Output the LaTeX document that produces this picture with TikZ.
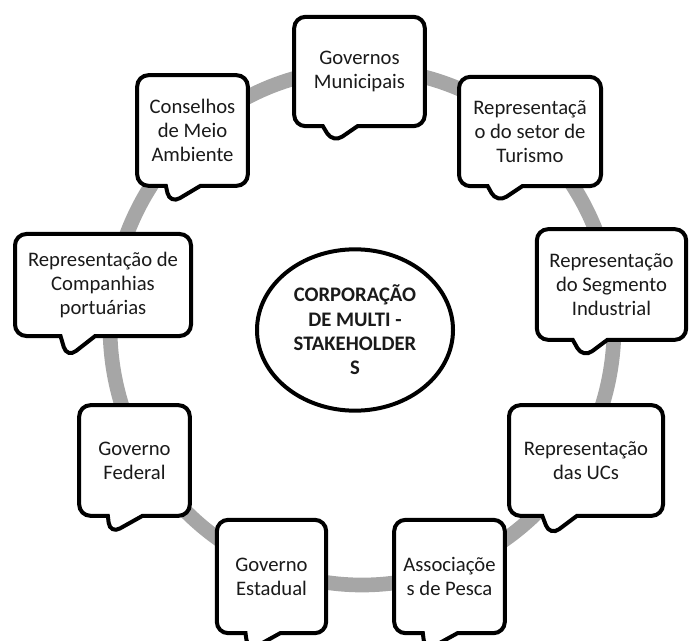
\documentclass[tikz,border=0pt]{standalone}
\usepackage{fontspec}
\setmainfont{Carlito}
\usepackage{xcolor}
\usetikzlibrary{shapes.callouts}
\usetikzlibrary{shapes.geometric}
\definecolor{ring-grey}{HTML}{A6A6A6}
\definecolor{ink}{HTML}{1A1A1A}

\tikzset{
  actor/.style={rectangle callout, draw=black, line width=3pt, fill=white,
    rounded corners=8.5pt, align=center, text=ink, inner sep=1pt,
    font=\fontsize{15.5}{18.2}\selectfont, callout pointer width=26pt},
  hub/.style={ellipse, draw=black, line width=3pt, fill=white, align=center,
    text=ink, inner sep=0pt, minimum width=147pt, minimum height=121pt,
    font=\fontsize{15.5}{18.2}\selectfont\bfseries}
}

\begin{document}
\begin{tikzpicture}[x=0.75pt,y=-0.75pt]

    \useasboundingbox (0,0) rectangle (691,641);
    \clip (0,0) rectangle (691,641);

    % ring
    \draw[ring-grey, line width=11pt] (362,327) ellipse [x radius=252, y radius=258];

    % centre
    \node[hub] (corp) at (355,330) {CORPORA\c{C}\~AO\\DE MULTI -\\STAKEHOLDER\\S};

    % stakeholders
    \node[actor, minimum width=98pt, minimum height=82pt, callout absolute pointer={(333,143)}]
      (municipais) at (359.5,71.5) {Governos\\Municipais};
    \node[actor, minimum width=106.5pt, minimum height=82pt, callout absolute pointer={(497,203)}]
      (turismo) at (530,131.5) {Representa\c{c}\~a\\o do setor de\\Turismo};
    \node[actor, minimum width=83pt, minimum height=83pt, callout absolute pointer={(170,204)}]
      (conselhos) at (192.5,130.5) {Conselhos\\de Meio\\Ambiente};
    \node[actor, minimum width=132pt, minimum height=76.5pt, callout absolute pointer={(67,358)}]
      (portos) at (103,285) {Representa\c{c}\~ao de\\Companhias\\portu\'arias};
    \node[actor, minimum width=112pt, minimum height=83pt, callout absolute pointer={(583,358)}]
      (industria) at (611.5,284.5) {Representa\c{c}\~ao\\do Segmento\\Industrial};
    \node[actor, minimum width=83pt, minimum height=83pt, callout absolute pointer={(110,534)}]
      (federal) at (134.5,460.5) {Governo\\Federal};
    \node[actor, minimum width=115.5pt, minimum height=83pt, callout absolute pointer={(550,536)}]
      (ucs) at (586,460.5) {Representa\c{c}\~ao\\das UCs};
    \node[actor, minimum width=82pt, minimum height=85pt, callout absolute pointer={(248,651)}]
      (estadual) at (271.5,576.5) {Governo\\Estadual};
    \node[actor, minimum width=83pt, minimum height=85pt, callout absolute pointer={(425,651)}]
      (pesca) at (449.5,576.5) {Associa\c{c}\~oe\\s de Pesca};

\end{tikzpicture}
\end{document}
